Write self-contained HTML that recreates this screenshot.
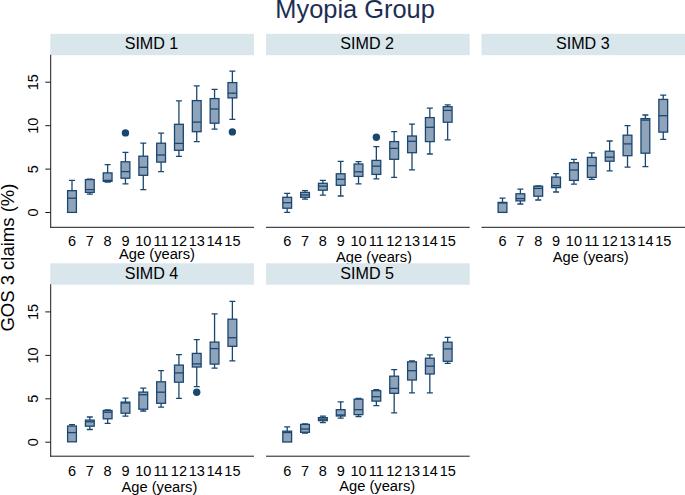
<!DOCTYPE html>
<html><head><meta charset="utf-8"><title>Myopia Group</title>
<style>html,body{margin:0;padding:0;background:#fff;width:685px;height:495px;overflow:hidden}</style></head>
<body>
<svg width="685" height="495" viewBox="0 0 685 495" style="position:absolute;left:0;top:0;font-family:'Liberation Sans',sans-serif">
<rect width="685" height="495" fill="#fff"/>
<text x="355.1" y="17.9" font-size="25.4" fill="#1e2d53" text-anchor="middle">Myopia Group</text>
<text transform="translate(14.2,257.6) rotate(-90)" font-size="18.5" fill="#000000" text-anchor="middle">GOS 3 claims (%)</text>
<g>
<rect x="50.3" y="33.8" width="203.7" height="21.4" fill="#d9e6eb"/>
<text x="151.5" y="48.9" font-size="16.1" fill="#000000" text-anchor="middle">SIMD 1</text>
<line x1="50.3" y1="227.3" x2="254.0" y2="227.3" stroke="#1a1a1a" stroke-width="1"/>
<line x1="50.7" y1="54.8" x2="50.7" y2="227.8" stroke="#1a1a1a" stroke-width="1"/>
<line x1="45.3" y1="212.5" x2="50.7" y2="212.5" stroke="#1a1a1a" stroke-width="1"/>
<text transform="translate(38.0,212.5) rotate(-90)" font-size="14.5" fill="#000000" text-anchor="middle">0</text>
<line x1="45.3" y1="169.1" x2="50.7" y2="169.1" stroke="#1a1a1a" stroke-width="1"/>
<text transform="translate(38.0,169.1) rotate(-90)" font-size="14.5" fill="#000000" text-anchor="middle">5</text>
<line x1="45.3" y1="125.7" x2="50.7" y2="125.7" stroke="#1a1a1a" stroke-width="1"/>
<text transform="translate(38.0,125.7) rotate(-90)" font-size="14.5" fill="#000000" text-anchor="middle">10</text>
<line x1="45.3" y1="82.2" x2="50.7" y2="82.2" stroke="#1a1a1a" stroke-width="1"/>
<text transform="translate(38.0,82.2) rotate(-90)" font-size="14.5" fill="#000000" text-anchor="middle">15</text>
<text x="72.0" y="246.0" font-size="14.5" fill="#000000" text-anchor="middle">6</text>
<text x="89.8" y="246.0" font-size="14.5" fill="#000000" text-anchor="middle">7</text>
<text x="107.6" y="246.0" font-size="14.5" fill="#000000" text-anchor="middle">8</text>
<text x="125.5" y="246.0" font-size="14.5" fill="#000000" text-anchor="middle">9</text>
<text x="143.3" y="246.0" font-size="14.5" fill="#000000" text-anchor="middle">10</text>
<text x="161.1" y="246.0" font-size="14.5" fill="#000000" text-anchor="middle">11</text>
<text x="178.9" y="246.0" font-size="14.5" fill="#000000" text-anchor="middle">12</text>
<text x="196.7" y="246.0" font-size="14.5" fill="#000000" text-anchor="middle">13</text>
<text x="214.6" y="246.0" font-size="14.5" fill="#000000" text-anchor="middle">14</text>
<text x="232.4" y="246.0" font-size="14.5" fill="#000000" text-anchor="middle">15</text>
<text x="157.0" y="258.6" font-size="14.7" fill="#000000" text-anchor="middle">Age (years)</text>
<path d="M72.00 190.7V180.4M69.00 180.4H75.00" stroke="#1a476f" stroke-width="1.3" fill="none"/>
<rect x="67.60" y="190.7" width="8.8" height="21.7" fill="#8fa3bb" stroke="#1a476f" stroke-width="1.3"/>
<line x1="67.60" y1="198.2" x2="76.40" y2="198.2" stroke="#1a476f" stroke-width="1.3"/>
<path d="M89.82 179.6V179.2M86.82 179.2H92.82M89.82 192.4V194.2M86.82 194.2H92.82" stroke="#1a476f" stroke-width="1.3" fill="none"/>
<rect x="85.42" y="179.6" width="8.8" height="12.8" fill="#8fa3bb" stroke="#1a476f" stroke-width="1.3"/>
<line x1="85.42" y1="189.6" x2="94.22" y2="189.6" stroke="#1a476f" stroke-width="1.3"/>
<path d="M107.64 172.9V164.7M104.64 164.7H110.64M107.64 181.3V182.2M104.64 182.2H110.64" stroke="#1a476f" stroke-width="1.3" fill="none"/>
<rect x="103.24" y="172.9" width="8.8" height="8.4" fill="#8fa3bb" stroke="#1a476f" stroke-width="1.3"/>
<line x1="103.24" y1="180.4" x2="112.04" y2="180.4" stroke="#1a476f" stroke-width="1.3"/>
<path d="M125.46 161.8V152.4M122.46 152.4H128.46M125.46 178.2V183.8M122.46 183.8H128.46" stroke="#1a476f" stroke-width="1.3" fill="none"/>
<rect x="121.06" y="161.8" width="8.8" height="16.4" fill="#8fa3bb" stroke="#1a476f" stroke-width="1.3"/>
<line x1="121.06" y1="171.6" x2="129.86" y2="171.6" stroke="#1a476f" stroke-width="1.3"/>
<path d="M143.28 156.2V143.1M140.28 143.1H146.28M143.28 175.3V189.6M140.28 189.6H146.28" stroke="#1a476f" stroke-width="1.3" fill="none"/>
<rect x="138.88" y="156.2" width="8.8" height="19.1" fill="#8fa3bb" stroke="#1a476f" stroke-width="1.3"/>
<line x1="138.88" y1="167.3" x2="147.68" y2="167.3" stroke="#1a476f" stroke-width="1.3"/>
<path d="M161.10 143.2V133.2M158.10 133.2H164.10M161.10 162.1V171.6M158.10 171.6H164.10" stroke="#1a476f" stroke-width="1.3" fill="none"/>
<rect x="156.70" y="143.2" width="8.8" height="18.9" fill="#8fa3bb" stroke="#1a476f" stroke-width="1.3"/>
<line x1="156.70" y1="155.0" x2="165.50" y2="155.0" stroke="#1a476f" stroke-width="1.3"/>
<path d="M178.92 124.3V100.8M175.92 100.8H181.92M178.92 150.3V156.3M175.92 156.3H181.92" stroke="#1a476f" stroke-width="1.3" fill="none"/>
<rect x="174.52" y="124.3" width="8.8" height="26.0" fill="#8fa3bb" stroke="#1a476f" stroke-width="1.3"/>
<line x1="174.52" y1="143.4" x2="183.32" y2="143.4" stroke="#1a476f" stroke-width="1.3"/>
<path d="M196.74 100.6V85.9M193.74 85.9H199.74M196.74 131.7V141.7M193.74 141.7H199.74" stroke="#1a476f" stroke-width="1.3" fill="none"/>
<rect x="192.34" y="100.6" width="8.8" height="31.1" fill="#8fa3bb" stroke="#1a476f" stroke-width="1.3"/>
<line x1="192.34" y1="122.1" x2="201.14" y2="122.1" stroke="#1a476f" stroke-width="1.3"/>
<path d="M214.56 98.6V89.4M211.56 89.4H217.56M214.56 123.2V129.2M211.56 129.2H217.56" stroke="#1a476f" stroke-width="1.3" fill="none"/>
<rect x="210.16" y="98.6" width="8.8" height="24.6" fill="#8fa3bb" stroke="#1a476f" stroke-width="1.3"/>
<line x1="210.16" y1="109.0" x2="218.96" y2="109.0" stroke="#1a476f" stroke-width="1.3"/>
<path d="M232.38 82.6V71.2M229.38 71.2H235.38M232.38 97.9V119.4M229.38 119.4H235.38" stroke="#1a476f" stroke-width="1.3" fill="none"/>
<rect x="227.98" y="82.6" width="8.8" height="15.3" fill="#8fa3bb" stroke="#1a476f" stroke-width="1.3"/>
<line x1="227.98" y1="93.2" x2="236.78" y2="93.2" stroke="#1a476f" stroke-width="1.3"/>
<circle cx="125.46" cy="132.9" r="3.7" fill="#1a476f"/>
<circle cx="232.38" cy="131.9" r="3.7" fill="#1a476f"/>
</g>
<g>
<rect x="266.0" y="33.8" width="203.7" height="21.4" fill="#d9e6eb"/>
<text x="367.2" y="48.9" font-size="16.1" fill="#000000" text-anchor="middle">SIMD 2</text>
<line x1="266.0" y1="227.3" x2="469.7" y2="227.3" stroke="#1a1a1a" stroke-width="1"/>
<text x="287.2" y="246.0" font-size="14.5" fill="#000000" text-anchor="middle">6</text>
<text x="305.0" y="246.0" font-size="14.5" fill="#000000" text-anchor="middle">7</text>
<text x="322.9" y="246.0" font-size="14.5" fill="#000000" text-anchor="middle">8</text>
<text x="340.7" y="246.0" font-size="14.5" fill="#000000" text-anchor="middle">9</text>
<text x="358.5" y="246.0" font-size="14.5" fill="#000000" text-anchor="middle">10</text>
<text x="376.3" y="246.0" font-size="14.5" fill="#000000" text-anchor="middle">11</text>
<text x="394.2" y="246.0" font-size="14.5" fill="#000000" text-anchor="middle">12</text>
<text x="412.0" y="246.0" font-size="14.5" fill="#000000" text-anchor="middle">13</text>
<text x="429.8" y="246.0" font-size="14.5" fill="#000000" text-anchor="middle">14</text>
<text x="447.7" y="246.0" font-size="14.5" fill="#000000" text-anchor="middle">15</text>
<text x="374.0" y="261.6" font-size="14.7" fill="#000000" text-anchor="middle">Age (years)</text>
<path d="M287.20 197.3V193.3M284.20 193.3H290.20M287.20 208.2V212.4M284.20 212.4H290.20" stroke="#1a476f" stroke-width="1.3" fill="none"/>
<rect x="282.80" y="197.3" width="8.8" height="10.9" fill="#8fa3bb" stroke="#1a476f" stroke-width="1.3"/>
<line x1="282.80" y1="202.7" x2="291.60" y2="202.7" stroke="#1a476f" stroke-width="1.3"/>
<path d="M305.03 192.4V190.7M302.03 190.7H308.03M305.03 197.3V199.1M302.03 199.1H308.03" stroke="#1a476f" stroke-width="1.3" fill="none"/>
<rect x="300.63" y="192.4" width="8.8" height="4.9" fill="#8fa3bb" stroke="#1a476f" stroke-width="1.3"/>
<line x1="300.63" y1="194.9" x2="309.43" y2="194.9" stroke="#1a476f" stroke-width="1.3"/>
<path d="M322.86 183.3V180.4M319.86 180.4H325.86M322.86 190.2V195.1M319.86 195.1H325.86" stroke="#1a476f" stroke-width="1.3" fill="none"/>
<rect x="318.46" y="183.3" width="8.8" height="6.9" fill="#8fa3bb" stroke="#1a476f" stroke-width="1.3"/>
<line x1="318.46" y1="186.2" x2="327.26" y2="186.2" stroke="#1a476f" stroke-width="1.3"/>
<path d="M340.69 173.8V161.3M337.69 161.3H343.69M340.69 185.3V196.0M337.69 196.0H343.69" stroke="#1a476f" stroke-width="1.3" fill="none"/>
<rect x="336.29" y="173.8" width="8.8" height="11.5" fill="#8fa3bb" stroke="#1a476f" stroke-width="1.3"/>
<line x1="336.29" y1="179.3" x2="345.09" y2="179.3" stroke="#1a476f" stroke-width="1.3"/>
<path d="M358.52 164.0V161.6M355.52 161.6H361.52M358.52 176.4V183.8M355.52 183.8H361.52" stroke="#1a476f" stroke-width="1.3" fill="none"/>
<rect x="354.12" y="164.0" width="8.8" height="12.4" fill="#8fa3bb" stroke="#1a476f" stroke-width="1.3"/>
<line x1="354.12" y1="171.8" x2="362.92" y2="171.8" stroke="#1a476f" stroke-width="1.3"/>
<path d="M376.35 160.4V146.7M373.35 146.7H379.35M376.35 174.4V178.9M373.35 178.9H379.35" stroke="#1a476f" stroke-width="1.3" fill="none"/>
<rect x="371.95" y="160.4" width="8.8" height="14.0" fill="#8fa3bb" stroke="#1a476f" stroke-width="1.3"/>
<line x1="371.95" y1="166.2" x2="380.75" y2="166.2" stroke="#1a476f" stroke-width="1.3"/>
<path d="M394.18 141.6V131.6M391.18 131.6H397.18M394.18 159.3V177.3M391.18 177.3H397.18" stroke="#1a476f" stroke-width="1.3" fill="none"/>
<rect x="389.78" y="141.6" width="8.8" height="17.7" fill="#8fa3bb" stroke="#1a476f" stroke-width="1.3"/>
<line x1="389.78" y1="148.4" x2="398.58" y2="148.4" stroke="#1a476f" stroke-width="1.3"/>
<path d="M412.01 136.0V124.2M409.01 124.2H415.01M412.01 152.7V169.8M409.01 169.8H415.01" stroke="#1a476f" stroke-width="1.3" fill="none"/>
<rect x="407.61" y="136.0" width="8.8" height="16.7" fill="#8fa3bb" stroke="#1a476f" stroke-width="1.3"/>
<line x1="407.61" y1="141.3" x2="416.41" y2="141.3" stroke="#1a476f" stroke-width="1.3"/>
<path d="M429.84 117.6V108.2M426.84 108.2H432.84M429.84 141.6V154.0M426.84 154.0H432.84" stroke="#1a476f" stroke-width="1.3" fill="none"/>
<rect x="425.44" y="117.6" width="8.8" height="24.0" fill="#8fa3bb" stroke="#1a476f" stroke-width="1.3"/>
<line x1="425.44" y1="127.3" x2="434.24" y2="127.3" stroke="#1a476f" stroke-width="1.3"/>
<path d="M447.67 106.7V104.9M444.67 104.9H450.67M447.67 122.2V139.8M444.67 139.8H450.67" stroke="#1a476f" stroke-width="1.3" fill="none"/>
<rect x="443.27" y="106.7" width="8.8" height="15.5" fill="#8fa3bb" stroke="#1a476f" stroke-width="1.3"/>
<line x1="443.27" y1="110.4" x2="452.07" y2="110.4" stroke="#1a476f" stroke-width="1.3"/>
<circle cx="376.35" cy="137.3" r="3.7" fill="#1a476f"/>
</g>
<g>
<rect x="481.5" y="33.8" width="203.7" height="21.4" fill="#d9e6eb"/>
<text x="582.8" y="48.9" font-size="16.1" fill="#000000" text-anchor="middle">SIMD 3</text>
<line x1="481.5" y1="227.3" x2="685.2" y2="227.3" stroke="#1a1a1a" stroke-width="1"/>
<text x="502.5" y="246.0" font-size="14.5" fill="#000000" text-anchor="middle">6</text>
<text x="520.4" y="246.0" font-size="14.5" fill="#000000" text-anchor="middle">7</text>
<text x="538.2" y="246.0" font-size="14.5" fill="#000000" text-anchor="middle">8</text>
<text x="556.1" y="246.0" font-size="14.5" fill="#000000" text-anchor="middle">9</text>
<text x="573.9" y="246.0" font-size="14.5" fill="#000000" text-anchor="middle">10</text>
<text x="591.8" y="246.0" font-size="14.5" fill="#000000" text-anchor="middle">11</text>
<text x="609.7" y="246.0" font-size="14.5" fill="#000000" text-anchor="middle">12</text>
<text x="627.5" y="246.0" font-size="14.5" fill="#000000" text-anchor="middle">13</text>
<text x="645.4" y="246.0" font-size="14.5" fill="#000000" text-anchor="middle">14</text>
<text x="663.2" y="246.0" font-size="14.5" fill="#000000" text-anchor="middle">15</text>
<text x="590.8" y="261.8" font-size="14.7" fill="#000000" text-anchor="middle">Age (years)</text>
<path d="M502.50 202.4V198.2M499.50 198.2H505.50" stroke="#1a476f" stroke-width="1.3" fill="none"/>
<rect x="498.10" y="202.4" width="8.8" height="10.0" fill="#8fa3bb" stroke="#1a476f" stroke-width="1.3"/>
<line x1="498.10" y1="203.0" x2="506.90" y2="203.0" stroke="#1a476f" stroke-width="1.3"/>
<path d="M520.36 193.8V189.1M517.36 189.1H523.36M520.36 200.9V204.0M517.36 204.0H523.36" stroke="#1a476f" stroke-width="1.3" fill="none"/>
<rect x="515.96" y="193.8" width="8.8" height="7.1" fill="#8fa3bb" stroke="#1a476f" stroke-width="1.3"/>
<line x1="515.96" y1="198.6" x2="524.76" y2="198.6" stroke="#1a476f" stroke-width="1.3"/>
<path d="M538.22 186.2V185.8M535.22 185.8H541.22M538.22 196.2V200.0M535.22 200.0H541.22" stroke="#1a476f" stroke-width="1.3" fill="none"/>
<rect x="533.82" y="186.2" width="8.8" height="10.0" fill="#8fa3bb" stroke="#1a476f" stroke-width="1.3"/>
<line x1="533.82" y1="188.4" x2="542.62" y2="188.4" stroke="#1a476f" stroke-width="1.3"/>
<path d="M556.08 177.1V173.6M553.08 173.6H559.08M556.08 187.6V192.0M553.08 192.0H559.08" stroke="#1a476f" stroke-width="1.3" fill="none"/>
<rect x="551.68" y="177.1" width="8.8" height="10.5" fill="#8fa3bb" stroke="#1a476f" stroke-width="1.3"/>
<line x1="551.68" y1="185.6" x2="560.48" y2="185.6" stroke="#1a476f" stroke-width="1.3"/>
<path d="M573.94 162.7V159.3M570.94 159.3H576.94M573.94 180.4V184.2M570.94 184.2H576.94" stroke="#1a476f" stroke-width="1.3" fill="none"/>
<rect x="569.54" y="162.7" width="8.8" height="17.7" fill="#8fa3bb" stroke="#1a476f" stroke-width="1.3"/>
<line x1="569.54" y1="170.0" x2="578.34" y2="170.0" stroke="#1a476f" stroke-width="1.3"/>
<path d="M591.80 157.4V152.8M588.80 152.8H594.80M591.80 177.4V179.4M588.80 179.4H594.80" stroke="#1a476f" stroke-width="1.3" fill="none"/>
<rect x="587.40" y="157.4" width="8.8" height="20.0" fill="#8fa3bb" stroke="#1a476f" stroke-width="1.3"/>
<line x1="587.40" y1="165.7" x2="596.20" y2="165.7" stroke="#1a476f" stroke-width="1.3"/>
<path d="M609.66 151.2V141.0M606.66 141.0H612.66M609.66 161.2V170.8M606.66 170.8H612.66" stroke="#1a476f" stroke-width="1.3" fill="none"/>
<rect x="605.26" y="151.2" width="8.8" height="10.0" fill="#8fa3bb" stroke="#1a476f" stroke-width="1.3"/>
<line x1="605.26" y1="157.2" x2="614.06" y2="157.2" stroke="#1a476f" stroke-width="1.3"/>
<path d="M627.52 135.2V125.7M624.52 125.7H630.52M627.52 155.7V167.2M624.52 167.2H630.52" stroke="#1a476f" stroke-width="1.3" fill="none"/>
<rect x="623.12" y="135.2" width="8.8" height="20.5" fill="#8fa3bb" stroke="#1a476f" stroke-width="1.3"/>
<line x1="623.12" y1="143.9" x2="631.92" y2="143.9" stroke="#1a476f" stroke-width="1.3"/>
<path d="M645.38 118.6V115.0M642.38 115.0H648.38M645.38 153.2V166.6M642.38 166.6H648.38" stroke="#1a476f" stroke-width="1.3" fill="none"/>
<rect x="640.98" y="118.6" width="8.8" height="34.6" fill="#8fa3bb" stroke="#1a476f" stroke-width="1.3"/>
<line x1="640.98" y1="120.1" x2="649.78" y2="120.1" stroke="#1a476f" stroke-width="1.3"/>
<path d="M663.24 99.4V95.2M660.24 95.2H666.24M663.24 132.1V139.4M660.24 139.4H666.24" stroke="#1a476f" stroke-width="1.3" fill="none"/>
<rect x="658.84" y="99.4" width="8.8" height="32.7" fill="#8fa3bb" stroke="#1a476f" stroke-width="1.3"/>
<line x1="658.84" y1="115.7" x2="667.64" y2="115.7" stroke="#1a476f" stroke-width="1.3"/>
</g>
<g>
<rect x="50.3" y="263.3" width="203.7" height="21.4" fill="#d9e6eb"/>
<text x="151.5" y="279.2" font-size="16.1" fill="#000000" text-anchor="middle">SIMD 4</text>
<line x1="50.3" y1="456.2" x2="254.0" y2="456.2" stroke="#1a1a1a" stroke-width="1"/>
<line x1="50.7" y1="284.3" x2="50.7" y2="456.7" stroke="#1a1a1a" stroke-width="1"/>
<line x1="45.3" y1="442.2" x2="50.7" y2="442.2" stroke="#1a1a1a" stroke-width="1"/>
<text transform="translate(38.0,442.2) rotate(-90)" font-size="14.5" fill="#000000" text-anchor="middle">0</text>
<line x1="45.3" y1="398.8" x2="50.7" y2="398.8" stroke="#1a1a1a" stroke-width="1"/>
<text transform="translate(38.0,398.8) rotate(-90)" font-size="14.5" fill="#000000" text-anchor="middle">5</text>
<line x1="45.3" y1="355.4" x2="50.7" y2="355.4" stroke="#1a1a1a" stroke-width="1"/>
<text transform="translate(38.0,355.4) rotate(-90)" font-size="14.5" fill="#000000" text-anchor="middle">10</text>
<line x1="45.3" y1="311.9" x2="50.7" y2="311.9" stroke="#1a1a1a" stroke-width="1"/>
<text transform="translate(38.0,311.9) rotate(-90)" font-size="14.5" fill="#000000" text-anchor="middle">15</text>
<text x="72.0" y="475.6" font-size="14.5" fill="#000000" text-anchor="middle">6</text>
<text x="89.8" y="475.6" font-size="14.5" fill="#000000" text-anchor="middle">7</text>
<text x="107.6" y="475.6" font-size="14.5" fill="#000000" text-anchor="middle">8</text>
<text x="125.5" y="475.6" font-size="14.5" fill="#000000" text-anchor="middle">9</text>
<text x="143.3" y="475.6" font-size="14.5" fill="#000000" text-anchor="middle">10</text>
<text x="161.1" y="475.6" font-size="14.5" fill="#000000" text-anchor="middle">11</text>
<text x="178.9" y="475.6" font-size="14.5" fill="#000000" text-anchor="middle">12</text>
<text x="196.7" y="475.6" font-size="14.5" fill="#000000" text-anchor="middle">13</text>
<text x="214.6" y="475.6" font-size="14.5" fill="#000000" text-anchor="middle">14</text>
<text x="232.4" y="475.6" font-size="14.5" fill="#000000" text-anchor="middle">15</text>
<text x="159.4" y="491.8" font-size="14.7" fill="#000000" text-anchor="middle">Age (years)</text>
<path d="M72.00 426.0V424.7M69.00 424.7H75.00" stroke="#1a476f" stroke-width="1.3" fill="none"/>
<rect x="67.60" y="426.0" width="8.8" height="15.8" fill="#8fa3bb" stroke="#1a476f" stroke-width="1.3"/>
<line x1="67.60" y1="432.6" x2="76.40" y2="432.6" stroke="#1a476f" stroke-width="1.3"/>
<path d="M89.82 420.1V417.0M86.82 417.0H92.82M89.82 426.2V429.5M86.82 429.5H92.82" stroke="#1a476f" stroke-width="1.3" fill="none"/>
<rect x="85.42" y="420.1" width="8.8" height="6.1" fill="#8fa3bb" stroke="#1a476f" stroke-width="1.3"/>
<line x1="85.42" y1="421.8" x2="94.22" y2="421.8" stroke="#1a476f" stroke-width="1.3"/>
<path d="M107.64 410.5V410.0M104.64 410.0H110.64M107.64 418.8V423.4M104.64 423.4H110.64" stroke="#1a476f" stroke-width="1.3" fill="none"/>
<rect x="103.24" y="410.5" width="8.8" height="8.3" fill="#8fa3bb" stroke="#1a476f" stroke-width="1.3"/>
<line x1="103.24" y1="412.2" x2="112.04" y2="412.2" stroke="#1a476f" stroke-width="1.3"/>
<path d="M125.46 402.1V398.1M122.46 398.1H128.46M125.46 413.2V416.1M122.46 416.1H128.46" stroke="#1a476f" stroke-width="1.3" fill="none"/>
<rect x="121.06" y="402.1" width="8.8" height="11.1" fill="#8fa3bb" stroke="#1a476f" stroke-width="1.3"/>
<line x1="121.06" y1="403.0" x2="129.86" y2="403.0" stroke="#1a476f" stroke-width="1.3"/>
<path d="M143.28 392.1V388.1M140.28 388.1H146.28M143.28 409.2V411.0M140.28 411.0H146.28" stroke="#1a476f" stroke-width="1.3" fill="none"/>
<rect x="138.88" y="392.1" width="8.8" height="17.1" fill="#8fa3bb" stroke="#1a476f" stroke-width="1.3"/>
<line x1="138.88" y1="394.7" x2="147.68" y2="394.7" stroke="#1a476f" stroke-width="1.3"/>
<path d="M161.10 381.8V370.7M158.10 370.7H164.10M161.10 403.3V407.1M158.10 407.1H164.10" stroke="#1a476f" stroke-width="1.3" fill="none"/>
<rect x="156.70" y="381.8" width="8.8" height="21.5" fill="#8fa3bb" stroke="#1a476f" stroke-width="1.3"/>
<line x1="156.70" y1="392.2" x2="165.50" y2="392.2" stroke="#1a476f" stroke-width="1.3"/>
<path d="M178.92 365.1V354.7M175.92 354.7H181.92M178.92 382.2V398.4M175.92 398.4H181.92" stroke="#1a476f" stroke-width="1.3" fill="none"/>
<rect x="174.52" y="365.1" width="8.8" height="17.1" fill="#8fa3bb" stroke="#1a476f" stroke-width="1.3"/>
<line x1="174.52" y1="372.9" x2="183.32" y2="372.9" stroke="#1a476f" stroke-width="1.3"/>
<path d="M196.74 353.4V339.7M193.74 339.7H199.74M196.74 367.0V386.7M193.74 386.7H199.74" stroke="#1a476f" stroke-width="1.3" fill="none"/>
<rect x="192.34" y="353.4" width="8.8" height="13.6" fill="#8fa3bb" stroke="#1a476f" stroke-width="1.3"/>
<line x1="192.34" y1="363.9" x2="201.14" y2="363.9" stroke="#1a476f" stroke-width="1.3"/>
<path d="M214.56 342.1V313.9M211.56 313.9H217.56M214.56 364.1V368.1M211.56 368.1H217.56" stroke="#1a476f" stroke-width="1.3" fill="none"/>
<rect x="210.16" y="342.1" width="8.8" height="22.0" fill="#8fa3bb" stroke="#1a476f" stroke-width="1.3"/>
<line x1="210.16" y1="348.6" x2="218.96" y2="348.6" stroke="#1a476f" stroke-width="1.3"/>
<path d="M232.38 319.2V301.4M229.38 301.4H235.38M232.38 346.3V360.8M229.38 360.8H235.38" stroke="#1a476f" stroke-width="1.3" fill="none"/>
<rect x="227.98" y="319.2" width="8.8" height="27.1" fill="#8fa3bb" stroke="#1a476f" stroke-width="1.3"/>
<line x1="227.98" y1="337.7" x2="236.78" y2="337.7" stroke="#1a476f" stroke-width="1.3"/>
<circle cx="196.74" cy="392.2" r="3.7" fill="#1a476f"/>
</g>
<g>
<rect x="266.0" y="263.3" width="203.7" height="21.4" fill="#d9e6eb"/>
<text x="367.2" y="279.2" font-size="16.1" fill="#000000" text-anchor="middle">SIMD 5</text>
<line x1="266.0" y1="456.2" x2="469.7" y2="456.2" stroke="#1a1a1a" stroke-width="1"/>
<text x="287.2" y="475.6" font-size="14.5" fill="#000000" text-anchor="middle">6</text>
<text x="305.0" y="475.6" font-size="14.5" fill="#000000" text-anchor="middle">7</text>
<text x="322.9" y="475.6" font-size="14.5" fill="#000000" text-anchor="middle">8</text>
<text x="340.7" y="475.6" font-size="14.5" fill="#000000" text-anchor="middle">9</text>
<text x="358.5" y="475.6" font-size="14.5" fill="#000000" text-anchor="middle">10</text>
<text x="376.3" y="475.6" font-size="14.5" fill="#000000" text-anchor="middle">11</text>
<text x="394.2" y="475.6" font-size="14.5" fill="#000000" text-anchor="middle">12</text>
<text x="412.0" y="475.6" font-size="14.5" fill="#000000" text-anchor="middle">13</text>
<text x="429.8" y="475.6" font-size="14.5" fill="#000000" text-anchor="middle">14</text>
<text x="447.7" y="475.6" font-size="14.5" fill="#000000" text-anchor="middle">15</text>
<text x="377.2" y="491.0" font-size="14.7" fill="#000000" text-anchor="middle">Age (years)</text>
<path d="M287.20 431.2V426.8M284.20 426.8H290.20" stroke="#1a476f" stroke-width="1.3" fill="none"/>
<rect x="282.80" y="431.2" width="8.8" height="10.8" fill="#8fa3bb" stroke="#1a476f" stroke-width="1.3"/>
<line x1="282.80" y1="432.5" x2="291.60" y2="432.5" stroke="#1a476f" stroke-width="1.3"/>
<path d="M305.03 424.4V423.8M302.03 423.8H308.03M305.03 432.3V433.2M302.03 433.2H308.03" stroke="#1a476f" stroke-width="1.3" fill="none"/>
<rect x="300.63" y="424.4" width="8.8" height="7.9" fill="#8fa3bb" stroke="#1a476f" stroke-width="1.3"/>
<line x1="300.63" y1="429.0" x2="309.43" y2="429.0" stroke="#1a476f" stroke-width="1.3"/>
<path d="M322.86 417.6V416.1M319.86 416.1H325.86M322.86 420.7V422.6M319.86 422.6H325.86" stroke="#1a476f" stroke-width="1.3" fill="none"/>
<rect x="318.46" y="417.6" width="8.8" height="3.1" fill="#8fa3bb" stroke="#1a476f" stroke-width="1.3"/>
<line x1="318.46" y1="419.2" x2="327.26" y2="419.2" stroke="#1a476f" stroke-width="1.3"/>
<path d="M340.69 409.7V401.8M337.69 401.8H343.69M340.69 416.0V418.1M337.69 418.1H343.69" stroke="#1a476f" stroke-width="1.3" fill="none"/>
<rect x="336.29" y="409.7" width="8.8" height="6.3" fill="#8fa3bb" stroke="#1a476f" stroke-width="1.3"/>
<line x1="336.29" y1="415.0" x2="345.09" y2="415.0" stroke="#1a476f" stroke-width="1.3"/>
<path d="M358.52 399.2V398.5M355.52 398.5H361.52M358.52 414.6V416.5M355.52 416.5H361.52" stroke="#1a476f" stroke-width="1.3" fill="none"/>
<rect x="354.12" y="399.2" width="8.8" height="15.4" fill="#8fa3bb" stroke="#1a476f" stroke-width="1.3"/>
<line x1="354.12" y1="409.7" x2="362.92" y2="409.7" stroke="#1a476f" stroke-width="1.3"/>
<path d="M376.35 390.7V389.6M373.35 389.6H379.35M376.35 401.1V405.6M373.35 405.6H379.35" stroke="#1a476f" stroke-width="1.3" fill="none"/>
<rect x="371.95" y="390.7" width="8.8" height="10.4" fill="#8fa3bb" stroke="#1a476f" stroke-width="1.3"/>
<line x1="371.95" y1="396.7" x2="380.75" y2="396.7" stroke="#1a476f" stroke-width="1.3"/>
<path d="M394.18 376.2V369.6M391.18 369.6H397.18M394.18 393.3V412.9M391.18 412.9H397.18" stroke="#1a476f" stroke-width="1.3" fill="none"/>
<rect x="389.78" y="376.2" width="8.8" height="17.1" fill="#8fa3bb" stroke="#1a476f" stroke-width="1.3"/>
<line x1="389.78" y1="388.4" x2="398.58" y2="388.4" stroke="#1a476f" stroke-width="1.3"/>
<path d="M412.01 361.8V360.9M409.01 360.9H415.01M412.01 380.0V392.9M409.01 392.9H415.01" stroke="#1a476f" stroke-width="1.3" fill="none"/>
<rect x="407.61" y="361.8" width="8.8" height="18.2" fill="#8fa3bb" stroke="#1a476f" stroke-width="1.3"/>
<line x1="407.61" y1="370.7" x2="416.41" y2="370.7" stroke="#1a476f" stroke-width="1.3"/>
<path d="M429.84 358.2V354.9M426.84 354.9H432.84M429.84 374.0V392.9M426.84 392.9H432.84" stroke="#1a476f" stroke-width="1.3" fill="none"/>
<rect x="425.44" y="358.2" width="8.8" height="15.8" fill="#8fa3bb" stroke="#1a476f" stroke-width="1.3"/>
<line x1="425.44" y1="366.2" x2="434.24" y2="366.2" stroke="#1a476f" stroke-width="1.3"/>
<path d="M447.67 342.2V337.3M444.67 337.3H450.67M447.67 361.3V363.3M444.67 363.3H450.67" stroke="#1a476f" stroke-width="1.3" fill="none"/>
<rect x="443.27" y="342.2" width="8.8" height="19.1" fill="#8fa3bb" stroke="#1a476f" stroke-width="1.3"/>
<line x1="443.27" y1="348.9" x2="452.07" y2="348.9" stroke="#1a476f" stroke-width="1.3"/>
</g>
</svg>
</body></html>
